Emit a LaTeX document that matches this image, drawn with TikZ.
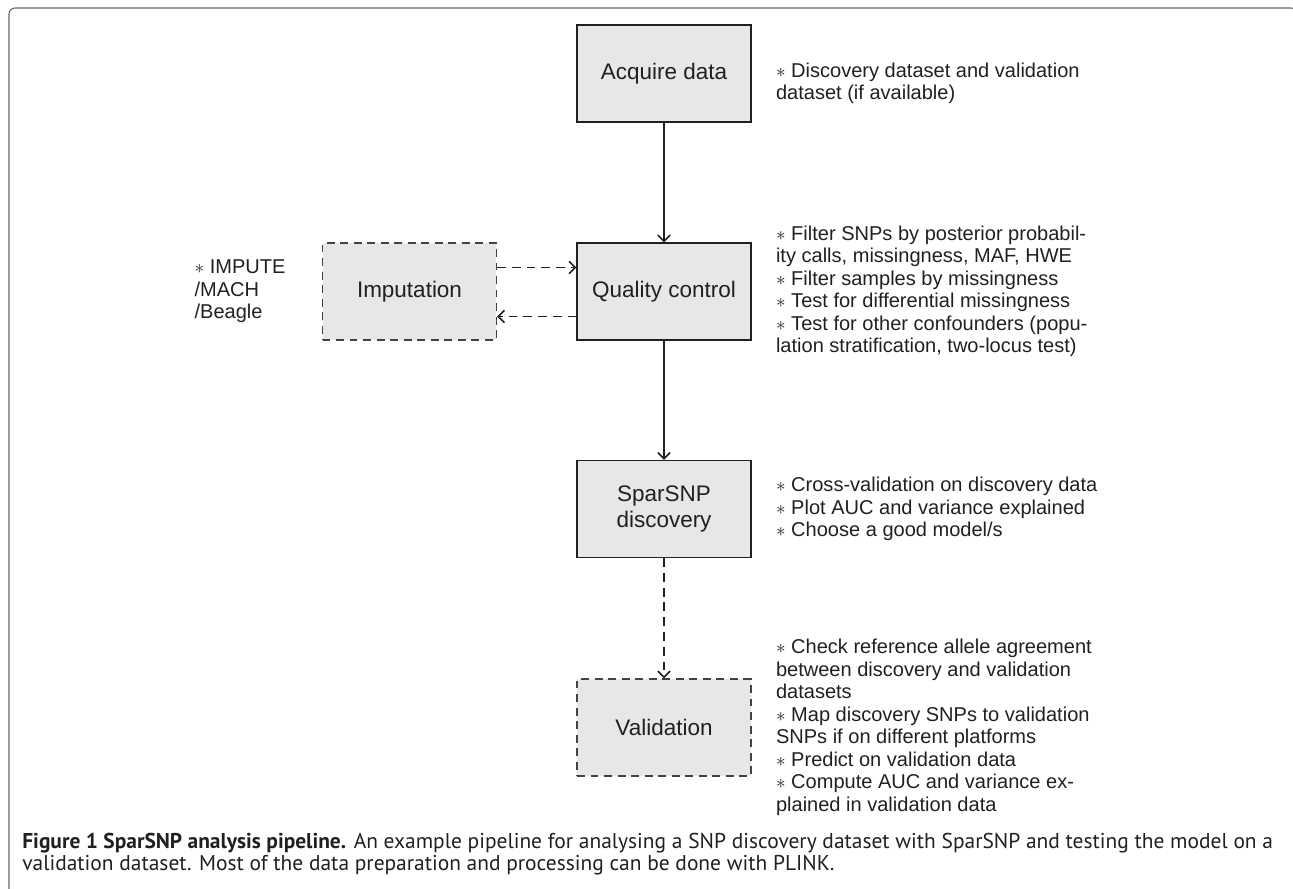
\documentclass[tikz,border=0pt]{standalone}
\usepackage{fontspec}
\setmainfont{Liberation Sans}
\newfontfamily\capfont{PT Sans}
\usetikzlibrary{positioning,arrows.meta}
\definecolor{boxgray}{HTML}{E6E7E8}
\definecolor{inkgray}{HTML}{231F20}
\tikzstyle{box}=[rectangle,fill=boxgray,minimum width=3.48cm,minimum height=1.94cm,inner sep=0pt,draw=inkgray,line width=0.8pt,align=center,text=inkgray,font=\fontsize{12.8}{15}\selectfont]
\tikzstyle{dbox}=[box,draw=inkgray!85,dash pattern=on 4.5pt off 3.2pt]
\tikzstyle{note}=[align=left,inner sep=0pt,text=inkgray,font=\fontsize{11.4}{12.8}\selectfont]
\tikzstyle{flow}=[draw=inkgray,line width=0.9pt,-{Straight Barb[length=3.5pt,width=7pt]}]
\tikzstyle{dflow}=[flow,dash pattern=on 5pt off 3.4pt]

\begin{document}
\begin{tikzpicture}[x=0.02cm,y=-0.02cm]
	\useasboundingbox (0,0) rectangle (1293,888);
	\draw[black!60,line width=0.6pt,rounded corners=0.12cm] (9,900) -- (9,8) -- (1297,8) -- (1297,40);

	\node[box](acq) at (664,73.5){Acquire data};
	\node[box](qc) at (664,291.5){Quality control};
	\node[dbox](imp) at (409.5,291.5){Imputation};
	\node[box](spar) at (664,509){SparSNP\\discovery};
	\node[dbox](val) at (664,727.5){Validation};

	\draw[flow](acq) -- (qc);
	\draw[flow](qc) -- (spar);
	\draw[dflow](spar) -- (val);
	\draw[dflow]([yshift=0.48cm]imp.east) -- ([yshift=0.48cm]qc.west);
	\draw[dflow]([yshift=-0.5cm]qc.west) -- ([yshift=-0.5cm]imp.east);

	\node[note,right=0.48cm of acq,yshift=-0.2cm](acqnote){$\ast$ Discovery dataset and validation\\dataset (if available)};
	\node[note,right=0.48cm of qc](qcnote){$\ast$ Filter SNPs by posterior probabil-\\ity calls, missingness, MAF, HWE\\$\ast$ Filter samples by missingness\\$\ast$ Test for differential missingness\\$\ast$ Test for other confounders (popu-\\lation stratification, two-locus test)};
	\node[note,left=0.72cm of imp](impnote){$\ast$ IMPUTE\\/MACH\\/Beagle};
	\node[note,right=0.48cm of spar](sparnote){$\ast$ Cross-validation on discovery data\\$\ast$ Plot AUC and variance explained\\$\ast$ Choose a good model/s};
	\node[note,right=0.48cm of val](valnote){$\ast$ Check reference allele agreement\\between discovery and validation\\datasets\\$\ast$ Map discovery SNPs to validation\\SNPs if on different platforms\\$\ast$ Predict on validation data\\$\ast$ Compute AUC and variance ex-\\plained in validation data};

	\node[anchor=west,align=left,inner sep=0pt,text=inkgray,font=\capfont\fontsize{12.2}{12.5}\selectfont](caption) at (22,854){\textbf{Figure 1 SparSNP analysis pipeline.} An example pipeline for analysing a SNP discovery dataset with SparSNP and testing the model on a\\validation dataset. Most of the data preparation and processing can be done with PLINK.};
\end{tikzpicture}
\end{document}
